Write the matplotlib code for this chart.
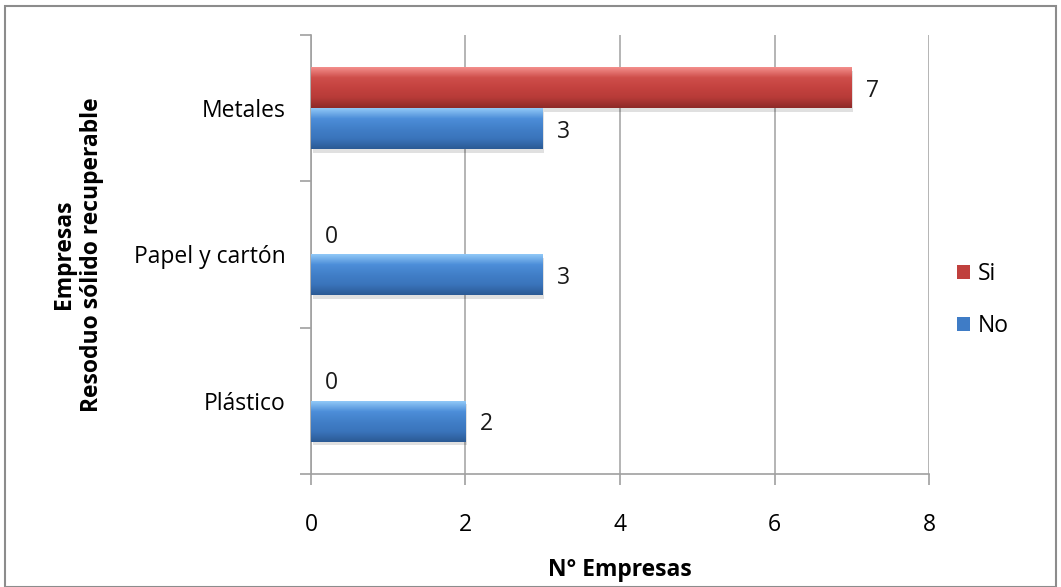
import numpy as np
import matplotlib
matplotlib.use("Agg")
import matplotlib.pyplot as plt
from matplotlib.patches import Rectangle
from matplotlib.colors import LinearSegmentedColormap

categories = ["Plástico", "Papel y cartón", "Metales"]
si_values = [0, 0, 7]
no_values = [2, 3, 3]
series_names = ["Si", "No"]
x_ticks = [0, 2, 4, 6, 8]

plt.rcParams["font.family"] = ["Open Sans", "DejaVu Sans"]
FS = 16.5

fig = plt.figure(figsize=(10.61, 5.87), dpi=100)
ax = fig.add_axes([0.2931, 0.1925, 0.5825, 0.7479])

y = np.arange(len(categories))
h = 0.28
red_cmap = LinearSegmentedColormap.from_list("r", ["#f38e8b", "#cf4f4b", "#c4423f", "#b73b38", "#8e2a28"])
blue_cmap = LinearSegmentedColormap.from_list("b", ["#90c8f7", "#4d8ed9", "#417fc8", "#3a74bb", "#2b5a95"])


def shaded_bars(ypos, values, base, cmap):
    bars = ax.barh(ypos, values, height=h, color=base, edgecolor="none", zorder=3)
    grad = np.linspace(0, 1, 64).reshape(-1, 1)
    for b in bars:
        x0, y0 = b.get_x(), b.get_y()
        w, hh = b.get_width(), b.get_height()
        if w <= 0:
            continue
        # soft drop shadow
        ax.add_patch(Rectangle((x0 + 0.02, y0 - 0.025), w, hh, facecolor="#000000",
                               alpha=0.12, edgecolor="none", zorder=2))
        im = ax.imshow(grad, cmap=cmap, aspect="auto", extent=(x0, x0 + w, y0, y0 + hh),
                       origin="upper", zorder=4, interpolation="bilinear")
        im.set_clip_path(b)
    return bars


red = shaded_bars(y + h / 2, si_values, "#c0403d", red_cmap)
blue = shaded_bars(y - h / 2, no_values, "#3f7cc6", blue_cmap)

for bars, vals in ((red, si_values), (blue, no_values)):
    for b, v in zip(bars, vals):
        ax.text(v + 0.18, b.get_y() + b.get_height() / 2 - 0.02, f"{v}", va="center", ha="left",
                fontsize=FS, color="#1a1a1a", zorder=5)

ax.set_xlim(0, 8)
ax.set_ylim(-0.5, len(categories) - 0.5)
ax.set_xticks(x_ticks)
ax.set_xticklabels([str(t) for t in x_ticks], fontsize=FS)
ax.set_yticks(y)
ax.set_yticklabels(categories, fontsize=FS)
ax.set_yticks(np.arange(len(categories) + 1) - 0.5, minor=True)
ax.tick_params(axis="y", which="major", length=0, pad=18)
ax.tick_params(axis="y", which="minor", length=8, color="#a0a0a0", width=1.2, direction="out")
ax.tick_params(axis="x", length=8, color="#a0a0a0", width=1.2, direction="out", pad=20)
ax.xaxis.grid(True, color="#a8a8a8", linewidth=1.2, zorder=0)
ax.set_axisbelow(True)
for s in ("top", "right"):
    ax.spines[s].set_visible(False)
for s in ("left", "bottom"):
    ax.spines[s].set_color("#a0a0a0")
    ax.spines[s].set_linewidth(1.2)

ax.set_xlabel("N° Empresas", fontsize=FS, fontweight="bold", labelpad=15)
ax.set_ylabel("Empresas\nResoduo sólido recuperable", fontsize=FS, fontweight="bold",
              labelpad=22, linespacing=1.2)

handles = [Rectangle((0, 0), 1, 1, facecolor="#c0403d"), Rectangle((0, 0), 1, 1, facecolor="#3f7cc6")]
fig.legend(handles, series_names, loc="center left", bbox_to_anchor=(0.883, 0.489), frameon=False,
           fontsize=FS, handlelength=0.55, handleheight=0.55, handletextpad=0.35, labelspacing=1.2)

fig.add_artist(Rectangle((0.005, 0.0), 0.99, 0.99, transform=fig.transFigure, fill=False,
                         edgecolor="#8c8c8c", linewidth=1.5))

fig.savefig("out.png", dpi=100)
